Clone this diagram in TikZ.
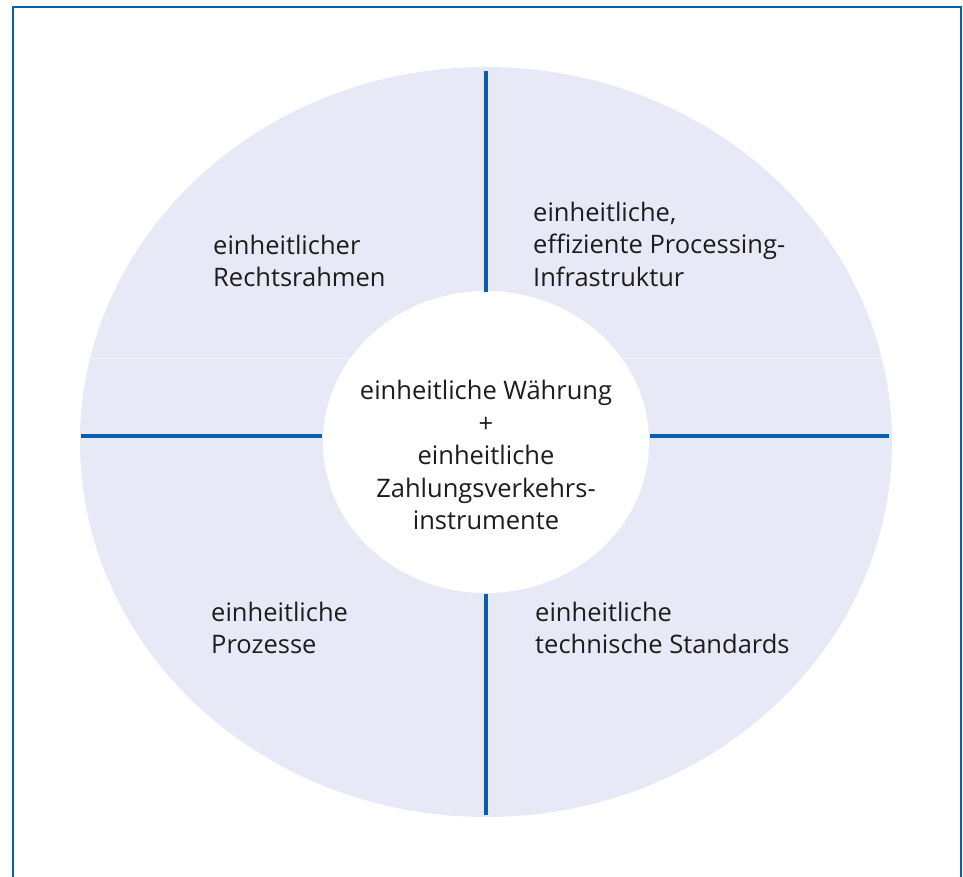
\documentclass[tikz,border=0pt]{standalone}
\usepackage{fontspec}
\setmainfont{Open Sans}
\definecolor{ringBlue}{HTML}{0A5EAC}
\definecolor{ringFill}{HTML}{E7EAF6}
\definecolor{labelInk}{HTML}{1E1C1D}
\newcommand{\hubX}{486}
\newcommand{\hubY}{442}
\newcommand{\outerRx}{406}
\newcommand{\outerRy}{375}
\newcommand{\innerRx}{163}
\newcommand{\innerRy}{151}
\newcommand{\crossY}{436}

\begin{document}
\begin{tikzpicture}[x=1pt, y=-1pt,
    quadlabel/.style={align=left, anchor=west, inner sep=0pt, text=labelInk,
      font=\fontsize{25.5}{32.5}\selectfont},
    divider/.style={color=ringBlue, line width=4pt}]
\useasboundingbox (0,0) rectangle (963,877);
% frame, open at the bottom
\draw[ringBlue, line width=2pt] (13,877) |- (961,7) -- (961,877);

% ring and white hub
\fill[ringFill] (\hubX,\hubY) ellipse [x radius=\outerRx, y radius=\outerRy];
\begin{scope}
  \clip (\hubX,\hubY) ellipse [x radius=\outerRx, y radius=\outerRy];
  \draw[white, line width=0.5pt, opacity=0.55] (60,358) -- (910,358);
\end{scope}
\fill[white] (\hubX,\hubY) ellipse [x radius=\innerRx, y radius=\innerRy];

% dividers
\draw[divider] (\hubX,71) -- (\hubX,292);
\draw[divider] (\hubX,594) -- (\hubX,815);
\draw[divider] (81,\crossY) -- (322,\crossY);
\draw[divider] (650,\crossY) -- (889,\crossY);

\node[quadlabel] (recht) at (213,261) {einheitlicher\\Rechtsrahmen};
\node[quadlabel] (infra) at (533,244) {einheitliche,\\effiziente Processing-\\Infrastruktur};
\node[quadlabel] (proz) at (211,628) {einheitliche\\Prozesse};
\node[quadlabel] (stand) at (535,628) {einheitliche\\technische Standards};
\node[quadlabel, align=center, anchor=center] (hub) at (\hubX,455)
  {einheitliche Währung\\+\\einheitliche\\Zahlungsverkehrs-\\instrumente};
\end{tikzpicture}
\end{document}
